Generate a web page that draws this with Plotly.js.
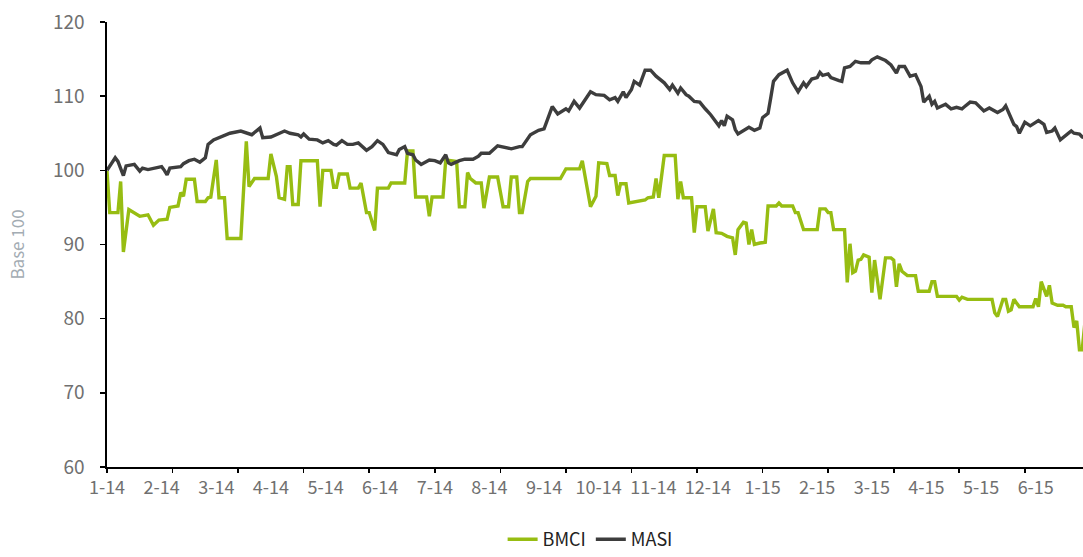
<!DOCTYPE html>
<html>
<head>
<meta charset="utf-8">
<script src="https://cdn.plot.ly/plotly-3.0.1.min.js"></script>
<style>
html,body{margin:0;padding:0;background:#fff;}
#chart{width:1083px;height:557px;}
</style>
</head>
<body>
<div id="chart"></div>
<script>
// Month labels (one every 20 trading days on the category axis)
const monthLabels = ["1-14","2-14","3-14","4-14","5-14","6-14","7-14","8-14","9-14","10-14","11-14","12-14","1-15","2-15","3-15","4-15","5-15","6-15"];
const labelEvery = 20;   // trading days between labels
const tickEvery = 24;    // trading days between tick marks
const lastDay = 357.3;   // visible end of the category axis

// MASI (base 100), trading-day index and value
const masiDay = [0,3,4,6,7,10,12,13,15,17,20,21,22,23,27,28,30,32,34,36,37,39,43,45,49,51,53,56,57,60,62,65,67,70,71,72,74,77,79,81,83,84,86,88,90,92,95,97,99,101,103,106,107,109,110,112,113,115,118,120,122,124,125,126,129,131,134,136,137,140,143,148,151,152,155,158,160,163,165,168,169,171,173,175,177,179,182,184,186,187,189,190,192,193,195,197,199,201,203,204,206,207,209,210,212,213,215,217,219,221,224,225,226,227,229,230,231,234,235,237,239,240,242,243,244,246,249,251,253,255,256,258,260,261,262,264,265,268,269,270,272,274,276,279,280,282,285,287,289,290,292,294,296,298,299,301,302,303,304,307,309,311,313,314,316,318,319,321,323,324,326,328,329,332,333,334,336,338,341,343,344,346,347,349,353,354,356,357,358];
const masiVal = [100.0,101.7,101.2,99.3,100.6,100.8,99.9,100.3,100.1,100.3,100.5,100.0,99.4,100.3,100.5,100.9,101.3,101.5,101.1,101.7,103.5,104.1,104.7,105.0,105.3,105.1,104.8,105.7,104.4,104.5,104.8,105.3,105.0,104.8,104.5,104.9,104.2,104.1,103.7,104.0,103.5,103.4,104.0,103.5,103.5,103.7,102.7,103.2,104.0,103.5,102.4,102.1,102.8,103.2,102.3,102.1,101.4,100.8,101.4,101.3,101.0,102.1,101.0,100.8,101.3,101.5,101.5,101.9,102.3,102.3,103.3,102.9,103.2,103.2,104.8,105.4,105.6,108.6,107.6,108.3,108.0,109.3,108.4,109.5,110.6,110.2,110.1,109.5,109.8,109.3,110.6,109.8,110.9,112.0,111.5,113.5,113.5,112.7,112.0,111.8,110.9,111.5,110.4,111.1,110.2,110.0,109.3,109.2,108.3,107.5,106.0,106.7,106.0,107.3,106.8,105.5,104.9,105.5,105.8,105.4,105.7,107.1,107.7,109.8,112.0,112.9,113.5,111.8,110.6,111.8,111.3,112.3,112.5,113.2,112.8,113.0,112.5,112.1,112.0,113.8,114.0,114.7,114.5,114.5,114.9,115.3,114.8,114.2,113.1,114.0,114.0,112.7,112.9,111.3,109.2,110.0,108.9,109.3,108.4,108.9,108.3,108.5,108.3,108.6,109.2,109.1,108.7,108.0,108.4,108.2,107.8,108.2,108.7,106.2,105.9,105.0,106.5,106.0,106.7,106.2,105.1,105.3,105.7,104.1,105.3,105.0,104.9,104.5,104.4];

// BMCI (base 100), trading-day index and value
const bmciDay = [0,1,4,5,6,8,12,15,17,19,22,23,26,27,28,29,32,33,36,37,38,40,41,43,44,49,51,52,54,59,60,62,63,65,66,67,68,70,71,77,78,79,82,83,84,85,88,89,92,93,95,96,98,99,103,104,109,110,112,113,117,118,119,123,124,128,129,131,132,133,135,137,138,140,143,145,147,148,150,151,152,154,155,166,168,173,174,176,177,179,180,183,184,186,187,188,190,191,194,197,198,200,201,202,204,208,209,210,211,214,215,216,219,220,222,223,225,227,229,230,231,233,234,235,236,237,239,241,242,245,246,247,251,252,253,255,260,261,263,264,265,266,270,271,272,273,274,275,276,277,279,280,281,283,285,287,288,289,290,291,293,296,297,301,302,303,304,311,312,313,315,324,325,326,328,329,330,331,332,334,339,340,341,342,344,345,346,348,350,351,353,354,355,356,357,358];
const bmciVal = [99.9,94.3,94.3,98.5,89.0,94.7,93.8,94.0,92.6,93.3,93.4,95.0,95.2,97.0,96.5,98.8,98.8,95.8,95.8,96.3,96.4,101.4,96.3,96.3,90.8,90.8,103.9,97.8,98.9,98.9,102.2,99.2,96.3,96.1,100.5,100.5,95.4,95.4,101.3,101.3,95.1,100.0,100.0,97.7,97.7,99.5,99.5,97.6,97.6,98.3,94.3,94.3,91.9,97.6,97.6,98.3,98.3,102.6,102.6,96.4,96.4,93.8,96.4,96.4,101.4,101.2,95.1,95.1,99.7,98.9,98.3,98.3,94.9,99.1,99.1,95.1,95.1,99.1,99.1,94.3,94.3,98.5,98.9,98.9,100.2,100.2,101.3,97.2,95.1,96.5,101.0,100.9,99.3,99.3,96.6,98.2,98.2,95.6,95.8,96.0,96.3,96.4,98.9,96.3,102.0,102.0,96.1,98.5,96.3,96.3,91.6,95.1,95.1,91.8,94.8,91.6,91.5,91.1,90.9,88.6,92.0,93.0,92.9,90.0,92.0,90.0,90.2,90.3,95.2,95.2,95.6,95.2,95.2,94.3,94.3,92.0,92.0,94.8,94.8,94.3,94.3,92.0,92.0,84.9,90.1,86.2,86.4,87.9,88.0,88.6,88.3,83.5,87.9,82.6,88.2,88.2,87.9,84.3,87.4,86.4,85.8,85.8,83.7,83.7,85.0,85.0,83.0,83.0,82.5,82.9,82.6,82.6,80.8,80.3,82.6,82.6,81.0,81.2,82.6,81.6,81.6,82.7,81.6,85.0,83.0,84.5,82.1,81.8,81.8,81.6,81.6,78.8,79.7,75.8,75.8,79.5];

const labelPos = monthLabels.map((_, k) => k * labelEvery);
const tickPos = [];
for (let d = 0; d <= lastDay; d += tickEvery) tickPos.push(d);

const fontFam = '"Noto Sans CJK SC", "Noto Sans", sans-serif';

const traces = [
  {
    x: bmciDay, y: bmciVal, name: 'BMCI', type: 'scatter', mode: 'lines',
    line: {color: '#97bd12', width: 3.4}, xaxis: 'x', yaxis: 'y'
  },
  {
    x: masiDay, y: masiVal, name: 'MASI', type: 'scatter', mode: 'lines',
    line: {color: '#3d3d3d', width: 3.4}, xaxis: 'x2', yaxis: 'y'
  }
];

const layout = {
  width: 1083, height: 557,
  margin: {l: 107, r: 0, t: 22, b: 90, autoexpand: false},
  paper_bgcolor: '#ffffff', plot_bgcolor: '#ffffff',
  showlegend: true,
  legend: {
    orientation: 'h', x: 0.495, xanchor: 'center', y: -0.163, yanchor: 'middle',
    font: {family: fontFam, size: 18, color: '#222222'},
    itemwidth: 30, tracegroupgap: 0
  },
  xaxis: {
    range: [0, lastDay],
    tickmode: 'array', tickvals: labelPos, ticktext: monthLabels,
    ticks: '', tickangle: 0,
    showline: true, linecolor: '#000000', linewidth: 1.6,
    showgrid: false, zeroline: false,
    tickfont: {family: fontFam, size: 18, color: '#707070'},
    ticklabelstandoff: 4
  },
  xaxis2: {
    overlaying: 'x', anchor: 'y', side: 'bottom',
    range: [0, lastDay],
    tickmode: 'array', tickvals: tickPos,
    ticks: 'outside', ticklen: 5, tickwidth: 1.6, tickcolor: '#000000',
    showticklabels: false, showline: false, showgrid: false, zeroline: false
  },
  yaxis: {
    range: [60, 120], dtick: 10, tick0: 60,
    ticks: 'outside', ticklen: 5, tickwidth: 1.6, tickcolor: '#000000',
    showline: true, linecolor: '#000000', linewidth: 1.6,
    showgrid: false, zeroline: false,
    tickfont: {family: fontFam, size: 19, color: '#707070'},
    ticklabelstandoff: 12,
    title: {text: 'Base 100', font: {family: fontFam, size: 17, color: '#a3acb3'}, standoff: 24}
  }
};

Plotly.newPlot('chart', traces, layout, {displayModeBar: false, staticPlot: true});
</script>
</body>
</html>
